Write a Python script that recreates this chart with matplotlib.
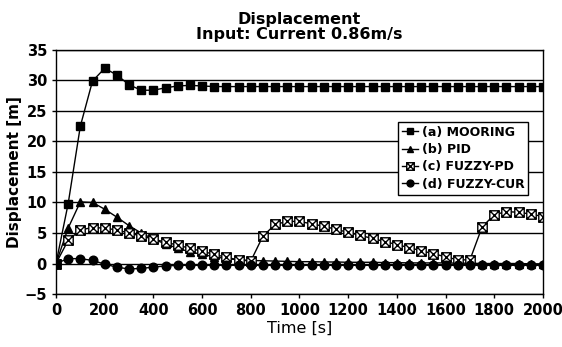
import numpy as np
import matplotlib
matplotlib.use("Agg")
import matplotlib.pyplot as plt
from matplotlib.path import Path

# time axis, one sample every 50 s
time_s = np.arange(0, 2001, 50)

mooring = [0, 9.8, 22.5, 29.9, 32.0, 30.9, 29.3, 28.4, 28.4, 28.8, 29.1, 29.2, 29.1,
           29.0, 29.0, 29.0, 29.0, 29.0, 29.0, 29.0, 29.0, 29.0, 29.0, 29.0, 29.0,
           29.0, 29.0, 29.0, 29.0, 29.0, 29.0, 29.0, 29.0, 29.0, 29.0, 29.0, 29.0,
           29.0, 29.0, 29.0, 29.0]
pid = [0, 5.8, 10.1, 10.0, 8.9, 7.6, 6.2, 5.0, 4.0, 3.2, 2.5, 1.9, 1.5,
       1.1, 0.8, 0.6, 0.5, 0.45, 0.4, 0.35, 0.3, 0.3, 0.25, 0.25, 0.2,
       0.2, 0.2, 0.15, 0.15, 0.1, 0.1, 0.1, 0.1, 0.05, 0.05, 0.0, 0.0,
       0.0, 0.0, -0.05, -0.05]
fuzzy_pd = [0, 3.8, 5.5, 5.9, 5.8, 5.5, 5.0, 4.5, 4.0, 3.5, 3.0, 2.5, 2.0,
            1.5, 1.0, 0.6, 0.4, 4.5, 6.4, 6.9, 6.9, 6.5, 6.1, 5.6, 5.1,
            4.6, 4.1, 3.6, 3.1, 2.6, 2.1, 1.6, 1.1, 0.6, 0.6, 6.0, 8.0,
            8.5, 8.4, 8.1, 7.7]
fuzzy_cur = [0, 0.8, 0.8, 0.5, -0.1, -0.6, -0.9, -0.8, -0.6, -0.4, -0.3, -0.3, -0.3,
             -0.3, -0.3, -0.3, -0.3, -0.3, -0.3, -0.3, -0.3, -0.3, -0.3, -0.3, -0.3,
             -0.3, -0.3, -0.3, -0.3, -0.3, -0.3, -0.3, -0.3, -0.3, -0.3, -0.3, -0.3,
             -0.3, -0.3, -0.3, -0.3]

labels = ["(a) MOORING", "(b) PID", "(c) FUZZY-PD", "(d) FUZZY-CUR"]
xticks = np.arange(0, 2001, 200)
yticks = np.arange(-5, 36, 5)

# square with a cross inside
crossed_sq = Path(
    [(-1, -1), (1, -1), (1, 1), (-1, 1), (-1, -1),
     (-1, -1), (1, 1), (-1, 1), (1, -1)],
    [Path.MOVETO, Path.LINETO, Path.LINETO, Path.LINETO, Path.CLOSEPOLY,
     Path.MOVETO, Path.LINETO, Path.MOVETO, Path.LINETO])

plt.rcParams['font.family'] = ['DejaVu Sans']
fig = plt.figure(figsize=(5.62, 3.47), dpi=100)
ax = fig.add_axes([0.0996, 0.1527, 0.8666, 0.7033])

ax.plot(time_s, mooring, color='k', lw=1, marker='s', ms=6.2, label=labels[0])
ax.plot(time_s, pid, color='k', lw=1, marker='^', ms=6.2, label=labels[1])
ax.plot(time_s, fuzzy_pd, color='k', lw=1, marker=crossed_sq, ms=6.8, mfc='white',
        mec='k', mew=1, label=labels[2])
ax.plot(time_s, fuzzy_cur, color='k', lw=1, marker='o', ms=6.2, label=labels[3])

ax.set_xlim(0, 2000)
ax.set_ylim(-5, 35)
ax.set_xticks(xticks)
ax.set_yticks(yticks)
ax.yaxis.grid(True, color='k', lw=1)
ax.set_axisbelow(True)
ax.tick_params(direction='out', length=3, width=1, labelsize=10.5)
for t in ax.get_xticklabels() + ax.get_yticklabels():
    t.set_fontweight('bold')
for s in ax.spines.values():
    s.set_linewidth(1)

ax.set_xlabel("Time [s]", fontsize=11.5, labelpad=2)
ax.set_ylabel("Displacement [m]", fontsize=11, fontweight='bold', labelpad=2)
fig.text(0.533, 0.945, "Displacement", ha='center', va='center',
         fontsize=11.5, fontweight='bold')
fig.text(0.533, 0.900, "Input: Current 0.86m/s", ha='center', va='center',
         fontsize=11.5, fontweight='semibold')

leg = ax.legend(loc='upper left', bbox_to_anchor=(0.702, 0.705), fancybox=False,
                edgecolor='k', framealpha=1, prop={'size': 9, 'weight': 'bold'},
                handlelength=1.3, handletextpad=0.3, borderpad=0.3, labelspacing=0.35,
                borderaxespad=0, markerscale=0.8)
leg.get_frame().set_linewidth(1)

fig.savefig("out.png", dpi=100)
